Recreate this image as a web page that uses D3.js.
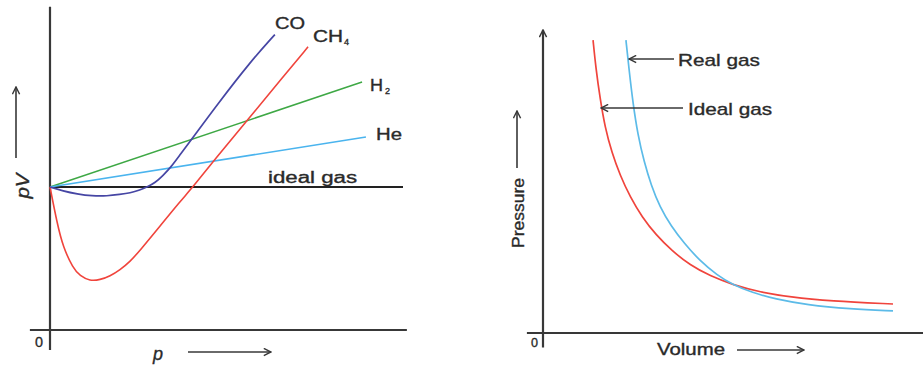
<!DOCTYPE html>
<html>
<head>
<meta charset="utf-8">
<script src="https://cdn.jsdelivr.net/npm/d3@7"></script>
<style>
  body { margin: 0; background: #fff; }
  text { font-family: "Liberation Sans", Arial, sans-serif; fill: #2a2a2a; stroke: #2a2a2a; stroke-width: 0.35px; }
</style>
</head>
<body>
<div id="container"></div>
<script>
'use strict';

//Left chart data: pressure p vs pV (ideal gas pV = 1)
const coP = [0, 0.37, 0.77, 1.19, 1.62, 1.98, 2.27, 2.55, 2.75, 2.98, 3.2, 3.43, 3.68, 4.05, 4.73, 5.67, 6.37];
const coPV = [1, 0.972, 0.951, 0.937, 0.937, 0.948, 0.958, 0.979, 1, 1.03, 1.08, 1.14, 1.224, 1.346, 1.574, 1.874, 2.066];
const ch4P = [0, 0.2, 0.37, 0.65, 0.85, 1.13, 1.42, 1.7, 1.98, 2.27, 2.55, 3.12, 3.68, 4.05, 4.67, 5.61, 6.6, 7.31];
const ch4PV = [1, 0.748, 0.58, 0.434, 0.378, 0.343, 0.351, 0.377, 0.42, 0.479, 0.556, 0.727, 0.897, 1, 1.193, 1.472, 1.769, 1.98];
const h2P = [0, 8.84];
const h2PV = [1, 1.734];
const heP = [0, 8.95];
const hePV = [1, 1.35];
const idealP = [0, 10];
const idealPV = [1, 1];

//Right chart data: volume vs pressure
const idealV = [1.43, 1.51, 1.63, 1.77, 1.97, 2.2, 2.49, 2.83, 3.23, 3.69, 4.2, 4.77, 5.43, 6.2, 7.06, 8.2, 10];
const idealPr = [10.1, 9.14, 8.1, 7.1, 6.21, 5.45, 4.69, 4.0, 3.38, 2.83, 2.34, 1.97, 1.66, 1.41, 1.24, 1.1, 1.0];
const realV = [2.37, 2.46, 2.57, 2.71, 2.89, 3.09, 3.34, 3.66, 4.03, 4.49, 4.97, 5.43, 5.97, 6.63, 7.54, 8.77, 10];
const realPr = [10.1, 9.07, 7.93, 6.83, 5.9, 5.1, 4.34, 3.69, 3.1, 2.48, 2.0, 1.66, 1.4, 1.17, 0.97, 0.83, 0.76];

//Sizing
const VIZ = { WIDTH: 923, HEIGHT: 367 };
const COLORS = {
    axis: '#383838',
    co: '#4646a4',
    ch4: '#f0443c',
    h2: '#3ea845',
    he: '#4ab4ee',
    ideal: '#222',
    real: '#5cbbe8',
};

//Canvas
const svg = d3.select('#container')
    .append('svg')
    .attr('width', VIZ.WIDTH)
    .attr('height', VIZ.HEIGHT)
    .attr('viewBox', `0 0 ${VIZ.WIDTH} ${VIZ.HEIGHT}`);

const defs = svg.append('defs');
defs.append('marker')
    .attr('id', 'arrow')
    .attr('viewBox', '0 0 10 10')
    .attr('refX', 9)
    .attr('refY', 5)
    .attr('markerWidth', 9)
    .attr('markerHeight', 9)
    .attr('markerUnits', 'userSpaceOnUse')
    .attr('orient', 'auto')
    .append('path')
    .attr('d', 'M1,1 L9,5 L1,9')
    .attr('fill', 'none')
    .attr('stroke', COLORS.axis)
    .attr('stroke-width', 1.6);

//Scales
const xL = d3.scaleLinear().domain([0, 10]).range([50, 403]);
const yL = d3.scaleLinear().domain([0, 1]).range([330, 187]);
const xR = d3.scaleLinear().domain([0, 10]).range([543, 893]);
const yR = d3.scaleLinear().domain([0, 10]).range([333, 43]);

//Left chart
const left = svg.append('g').attr('class', 'left');
drawLine(left, [xL(-0.57), yL(0)], [xL(10.11), yL(0)], COLORS.axis, 2.2);
drawLine(left, [xL(0), yL(2.26)], [xL(0), yL(-0.14)], COLORS.axis, 2.2);

drawSeries(left, idealP, idealPV, xL, yL, COLORS.ideal, 1.8);
drawSeries(left, h2P, h2PV, xL, yL, COLORS.h2, 1.5);
drawSeries(left, heP, hePV, xL, yL, COLORS.he, 1.5);
drawSeries(left, ch4P, ch4PV, xL, yL, COLORS.ch4, 1.6);
drawSeries(left, coP, coPV, xL, yL, COLORS.co, 1.7);

createText(left, 'CO', 275, 29, 16, 30);
createText(left, 'CH', 313, 42, 16, 30);
createText(left, '4', 344, 45, 9);
createText(left, 'H', 370, 91, 16, 13);
createText(left, '2', 385, 94, 9);
createText(left, 'He', 376, 140, 16, 26);
createText(left, 'ideal gas', 268, 183, 16, 89);
createText(left, '0', 35, 347, 15, 8);

createText(left, 'p', 153, 360, 18).attr('font-style', 'italic');
drawArrow(left, [188, 352], [271, 352]);
createText(left, 'pV', 0, 0, 18, 25)
    .attr('font-style', 'italic')
    .attr('text-anchor', 'middle')
    .attr('transform', 'translate(29 186) rotate(-90)');
drawArrow(left, [16, 158], [16, 87]);

//Right chart
const right = svg.append('g').attr('class', 'right');
drawLine(right, [xR(-0.46), yR(0)], [923, yR(0)], COLORS.axis, 2.2);
drawArrow(right, [xR(0), yR(-0.5)], [xR(0), yR(10.45)], 2.2);

drawSeries(right, idealV, idealPr, xR, yR, COLORS.ch4, 1.7);
drawSeries(right, realV, realPr, xR, yR, COLORS.real, 1.7);

drawArrow(right, [674, 59], [629, 59]);
createText(right, 'Real gas', 678, 66, 17, 82);
drawArrow(right, [683, 108], [601, 108]);
createText(right, 'Ideal gas', 688, 115, 17, 84);

createText(right, '0', 531, 347, 12, 7);
createText(right, 'Volume', 657, 355, 16, 68);
drawArrow(right, [737, 350], [804, 350]);
createText(right, 'Pressure', 0, 0, 16, 70)
    .attr('text-anchor', 'middle')
    .attr('transform', 'translate(524 213) rotate(-90)');
drawArrow(right, [517, 168], [517, 111]);

//Draw a series through scales
function drawSeries(place, xs, ys, x, y, color, width) {
    const points = xs.map((d, i) => [d, ys[i]]);
    const line = d3.line()
        .x(d => x(d[0]))
        .y(d => y(d[1]))
        .curve(d3.curveBasis);
    return place.append('path')
        .datum(points)
        .attr('d', line)
        .attr('fill', 'none')
        .attr('stroke', color)
        .attr('stroke-width', width)
        .attr('stroke-linejoin', 'round');
}

//Plain line
function drawLine(place, from, to, color, width) {
    return place.append('line')
        .attr('x1', from[0]).attr('y1', from[1])
        .attr('x2', to[0]).attr('y2', to[1])
        .attr('stroke', color)
        .attr('stroke-width', width);
}

//Line with arrowhead
function drawArrow(place, from, to, width = 1.6) {
    return drawLine(place, from, to, COLORS.axis, width)
        .attr('marker-end', 'url(#arrow)');
}

//Create text function
function createText(place, text, x = 0, y = 0, size = 16, length = null) {
    const t = place.append('text')
        .attr('x', x)
        .attr('y', y)
        .attr('font-size', size)
        .text(text);
    if (length) {
        t.attr('textLength', length).attr('lengthAdjust', 'spacingAndGlyphs');
    }
    return t;
}
</script>
</body>
</html>
